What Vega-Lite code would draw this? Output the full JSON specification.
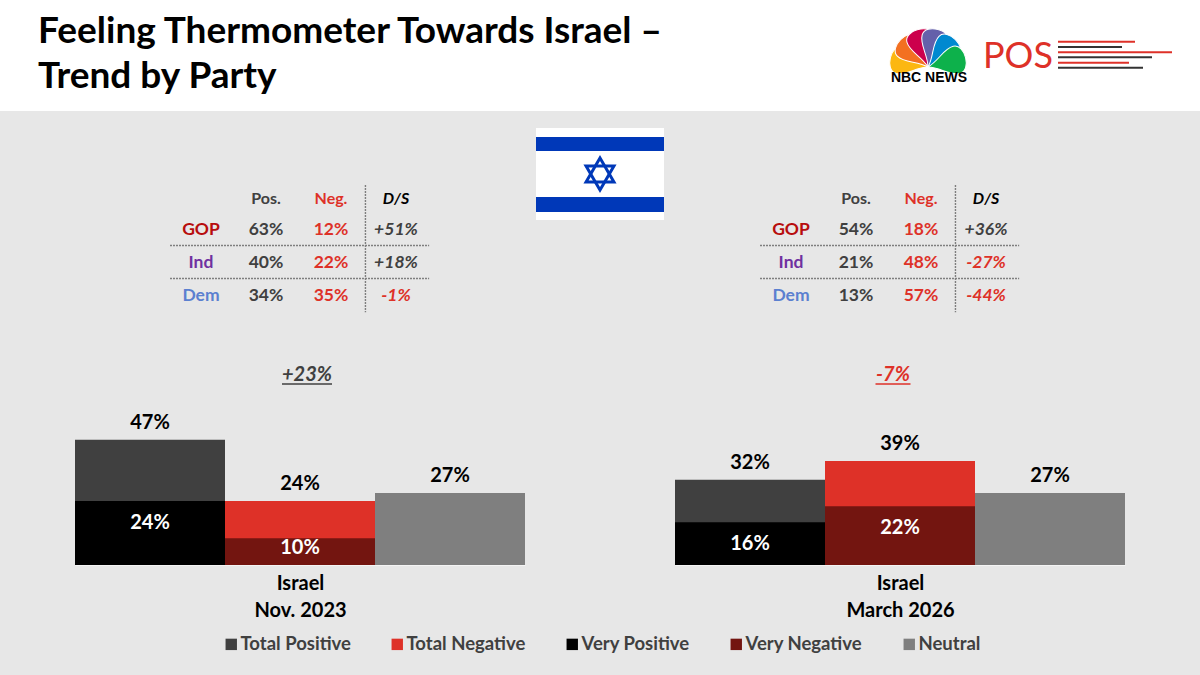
{
  "$schema": "https://vega.github.io/schema/vega-lite/v6.json",
  "background": "#E7E7E7",
  "padding": {"left": 0, "top": 0, "right": 0, "bottom": 22},
  "autosize": {"type": "pad"},
  "config": {"view": {"stroke": null}, "font": "Lato"},
  "datasets": {
    "bars": [
      {"poll": "Nov. 2023", "series": "Total Positive", "group": "Positive", "value": 47},
      {"poll": "Nov. 2023", "series": "Very Positive", "group": "Positive", "value": 24},
      {"poll": "Nov. 2023", "series": "Total Negative", "group": "Negative", "value": 24},
      {"poll": "Nov. 2023", "series": "Very Negative", "group": "Negative", "value": 10},
      {"poll": "Nov. 2023", "series": "Neutral", "group": "Neutral", "value": 27},
      {"poll": "March 2026", "series": "Total Positive", "group": "Positive", "value": 32},
      {"poll": "March 2026", "series": "Very Positive", "group": "Positive", "value": 16},
      {"poll": "March 2026", "series": "Total Negative", "group": "Negative", "value": 39},
      {"poll": "March 2026", "series": "Very Negative", "group": "Negative", "value": 22},
      {"poll": "March 2026", "series": "Neutral", "group": "Neutral", "value": 27}
    ],
    "table": [
      {"poll": "Nov. 2023", "row": 1, "col": 0, "text": "GOP", "tone": "GOP"},
      {"poll": "Nov. 2023", "row": 1, "col": 1, "text": "63%", "tone": "pos"},
      {"poll": "Nov. 2023", "row": 1, "col": 2, "text": "12%", "tone": "neg"},
      {"poll": "Nov. 2023", "row": 1, "col": 3, "text": "+51%", "tone": "pos"},
      {"poll": "Nov. 2023", "row": 2, "col": 0, "text": "Ind", "tone": "Ind"},
      {"poll": "Nov. 2023", "row": 2, "col": 1, "text": "40%", "tone": "pos"},
      {"poll": "Nov. 2023", "row": 2, "col": 2, "text": "22%", "tone": "neg"},
      {"poll": "Nov. 2023", "row": 2, "col": 3, "text": "+18%", "tone": "pos"},
      {"poll": "Nov. 2023", "row": 3, "col": 0, "text": "Dem", "tone": "Dem"},
      {"poll": "Nov. 2023", "row": 3, "col": 1, "text": "34%", "tone": "pos"},
      {"poll": "Nov. 2023", "row": 3, "col": 2, "text": "35%", "tone": "neg"},
      {"poll": "Nov. 2023", "row": 3, "col": 3, "text": "-1%", "tone": "neg"},
      {"poll": "March 2026", "row": 1, "col": 0, "text": "GOP", "tone": "GOP"},
      {"poll": "March 2026", "row": 1, "col": 1, "text": "54%", "tone": "pos"},
      {"poll": "March 2026", "row": 1, "col": 2, "text": "18%", "tone": "neg"},
      {"poll": "March 2026", "row": 1, "col": 3, "text": "+36%", "tone": "pos"},
      {"poll": "March 2026", "row": 2, "col": 0, "text": "Ind", "tone": "Ind"},
      {"poll": "March 2026", "row": 2, "col": 1, "text": "21%", "tone": "pos"},
      {"poll": "March 2026", "row": 2, "col": 2, "text": "48%", "tone": "neg"},
      {"poll": "March 2026", "row": 2, "col": 3, "text": "-27%", "tone": "neg"},
      {"poll": "March 2026", "row": 3, "col": 0, "text": "Dem", "tone": "Dem"},
      {"poll": "March 2026", "row": 3, "col": 1, "text": "13%", "tone": "pos"},
      {"poll": "March 2026", "row": 3, "col": 2, "text": "57%", "tone": "neg"},
      {"poll": "March 2026", "row": 3, "col": 3, "text": "-44%", "tone": "neg"}
    ],
    "heads": [
      {"col": 1, "text": "Pos.", "tone": "pos"},
      {"col": 2, "text": "Neg.", "tone": "neg"},
      {"col": 3, "text": "D/S", "tone": "black"}
    ],
    "hlines": [{"row": 1.5, "from": -0.477, "to": 3.51}, {"row": 2.5, "from": -0.477, "to": 3.51}]
  },
  "spacing": 0,
  "resolve": {"scale": {"color": "independent", "shape": "independent"}, "legend": {"color": "independent"}},
  "vconcat": [
    {
      "bounds": "flush",
      "spacing": 0,
      "resolve": {"scale": {"color": "independent", "shape": "independent"}, "legend": {"color": "independent"}},
      "hconcat": [
        {
          "width": 880,
          "height": 111,
          "view": {"fill": "#FFFFFF"},
          "data": {"values": [
            {"line": 1, "text": "Feeling Thermometer Towards Israel –"},
            {"line": 2, "text": "Trend by Party"}
          ]},
          "mark": {"type": "text", "align": "left", "baseline": "middle", "fontSize": 37, "fontWeight": "bold", "color": "#000000"},
          "encoding": {
            "x": {"value": 38},
            "y": {"field": "line", "type": "quantitative", "axis": null, "scale": {"domain": [0.289, 2.756], "reverse": true, "zero": false, "nice": false}},
            "text": {"field": "text"}
          }
        },
        {
          "width": 320,
          "height": 111,
          "view": {"fill": "#FFFFFF"},
          "layer": [
            {
              "data": {"values": [
                {"angle": -76, "tone": "#FCB711"},
                {"angle": -45, "tone": "#F37021"},
                {"angle": -15, "tone": "#CC004C"},
                {"angle": 15, "tone": "#6460AA"},
                {"angle": 45, "tone": "#0089D0"},
                {"angle": 76, "tone": "#0DB14B"}
              ]},
              "mark": {"type": "point", "filled": true, "opacity": 1, "stroke": "#FFFFFF", "strokeWidth": 1},
              "encoding": {
                "x": {"datum": 48, "type": "quantitative", "axis": null, "scale": {"domain": [0, 320], "nice": false}},
                "y": {"datum": 67, "type": "quantitative", "axis": null, "scale": {"domain": [0, 111], "reverse": true, "nice": false}},
                "angle": {"field": "angle", "type": "quantitative", "scale": null},
                "color": {"field": "tone", "type": "nominal", "scale": null},
                "shape": {"value": "M0,0 C-0.08,-0.3 -0.36,-0.5 -0.36,-0.76 C-0.36,-0.92 -0.18,-1 0,-1 C0.18,-1 0.36,-0.92 0.36,-0.76 C0.36,-0.5 0.08,-0.3 0,0 Z"},
                "size": {"value": 6000}
              }
            },
            {
              "data": {"values": [{"text": "NBC NEWS"}]},
              "mark": {"type": "text", "font": "Liberation Sans", "fontSize": 14, "fontWeight": "bold", "color": "#000000", "baseline": "middle"},
              "encoding": {
                "x": {"datum": 49, "type": "quantitative", "axis": null},
                "y": {"datum": 78, "type": "quantitative", "axis": null},
                "text": {"field": "text"}
              }
            },
            {
              "data": {"values": [{"text": "POS"}]},
              "mark": {"type": "text", "fontSize": 36, "color": "#DE3128", "align": "left", "baseline": "alphabetic"},
              "encoding": {
                "x": {"datum": 103, "type": "quantitative", "axis": null},
                "y": {"datum": 68, "type": "quantitative", "axis": null},
                "text": {"field": "text"}
              }
            },
            {
              "data": {"values": [
                {"y": 41.7, "start": 178, "end": 255, "tone": "#DE3128"},
                {"y": 47, "start": 178, "end": 242, "tone": "#333333"},
                {"y": 52.3, "start": 178, "end": 292, "tone": "#DE3128"},
                {"y": 57.3, "start": 178, "end": 272, "tone": "#333333"},
                {"y": 62.7, "start": 178, "end": 249, "tone": "#DE3128"},
                {"y": 67.7, "start": 178, "end": 263, "tone": "#333333"}
              ]},
              "mark": {"type": "rule", "strokeWidth": 2},
              "encoding": {
                "x": {"field": "start", "type": "quantitative", "axis": null},
                "x2": {"field": "end"},
                "y": {"field": "y", "type": "quantitative", "axis": null},
                "color": {"field": "tone", "type": "nominal", "scale": null}
              }
            }
          ]
        }
      ]
    },
    {
      "bounds": "flush",
      "spacing": 0,
      "resolve": {"scale": {"color": "independent", "shape": "independent"}, "legend": {"color": "independent"}},
      "hconcat": [
        {
          "width": 536,
          "height": 209,
          "layer": [
            {
              "data": {"name": "hlines"},
              "mark": {"type": "rule", "color": "#7F7F7F", "strokeWidth": 1.4, "strokeDash": [2, 1]},
              "encoding": {
                "x": {"field": "from", "type": "quantitative", "axis": null, "scale": {"domain": [-3.092, 5.154], "nice": false}},
                "x2": {"field": "to"},
                "y": {"field": "row", "type": "quantitative", "axis": null, "scale": {"domain": [-2.576, 3.758], "reverse": true, "zero": false, "nice": false}}
              }
            },
            {
              "data": {"values": [{"col": 2.53, "top": -0.33, "bottom": 3.52}]},
              "mark": {"type": "rule", "color": "#7F7F7F", "strokeWidth": 1.4, "strokeDash": [2, 1]},
              "encoding": {
                "x": {"field": "col", "type": "quantitative"},
                "y": {"field": "top", "type": "quantitative"},
                "y2": {"field": "bottom"}
              }
            },
            {
              "data": {"name": "heads"},
              "transform": [{"filter": "datum.col < 3"}],
              "mark": {"type": "text", "fontSize": 16, "fontWeight": "bold", "baseline": "middle"},
              "encoding": {
                "x": {"field": "col", "type": "quantitative"},
                "y": {"datum": 0.09, "type": "quantitative"},
                "text": {"field": "text"},
                "color": {"field": "tone", "type": "nominal", "legend": null, "scale": {"domain": ["pos", "neg", "black", "GOP", "Ind", "Dem"], "range": ["#404040", "#DE3128", "#000000", "#B70D0D", "#7030A0", "#5B80D0"]}}
              }
            },
            {
              "data": {"name": "heads"},
              "transform": [{"filter": "datum.col == 3"}],
              "mark": {"type": "text", "fontSize": 16, "fontWeight": "bold", "fontStyle": "italic", "baseline": "middle"},
              "encoding": {
                "x": {"field": "col", "type": "quantitative"},
                "y": {"datum": 0.09, "type": "quantitative"},
                "text": {"field": "text"},
                "color": {"field": "tone", "type": "nominal", "legend": null}
              }
            },
            {
              "data": {"name": "table"},
              "transform": [{"filter": "datum.poll == 'Nov. 2023' && datum.col < 3"}],
              "mark": {"type": "text", "fontSize": 17.5, "fontWeight": "bold", "baseline": "middle", "dy": 1},
              "encoding": {
                "x": {"field": "col", "type": "quantitative"},
                "y": {"field": "row", "type": "quantitative"},
                "text": {"field": "text"},
                "color": {"field": "tone", "type": "nominal", "legend": null}
              }
            },
            {
              "data": {"name": "table"},
              "transform": [{"filter": "datum.poll == 'Nov. 2023' && datum.col == 3"}],
              "mark": {"type": "text", "fontSize": 17.5, "fontWeight": "bold", "fontStyle": "italic", "baseline": "middle", "dy": 1},
              "encoding": {
                "x": {"field": "col", "type": "quantitative"},
                "y": {"field": "row", "type": "quantitative"},
                "text": {"field": "text"},
                "color": {"field": "tone", "type": "nominal", "legend": null}
              }
            }
          ]
        },
        {
          "width": 128,
          "height": 209,
          "layer": [
            {
              "data": {"values": [
                {"from": 0, "to": 92, "tone": "#FFFFFF"},
                {"from": 9, "to": 23, "tone": "#0038B8"},
                {"from": 69, "to": 84, "tone": "#0038B8"}
              ]},
              "mark": {"type": "rect"},
              "encoding": {
                "y": {"field": "from", "type": "quantitative", "axis": null, "scale": {"domain": [-17, 192], "reverse": true, "zero": false, "nice": false}},
                "y2": {"field": "to"},
                "color": {"field": "tone", "type": "nominal", "scale": null}
              }
            },
            {
              "data": {"values": [
                {"y": 42, "shape": "triangle-up"},
                {"y": 50, "shape": "triangle-down"}
              ]},
              "mark": {"type": "point", "filled": false, "opacity": 1, "color": "#0038B8", "strokeWidth": 3, "size": 780, "strokeJoin": "miter"},
              "encoding": {
                "y": {"field": "y", "type": "quantitative"},
                "shape": {"field": "shape", "type": "nominal", "legend": null, "scale": null}
              }
            }
          ]
        },
        {
          "width": 536,
          "height": 209,
          "layer": [
            {
              "data": {"name": "hlines"},
              "mark": {"type": "rule", "color": "#7F7F7F", "strokeWidth": 1.4, "strokeDash": [2, 1]},
              "encoding": {
                "x": {"field": "from", "type": "quantitative", "axis": null, "scale": {"domain": [-1.954, 6.292], "nice": false}},
                "x2": {"field": "to"},
                "y": {"field": "row", "type": "quantitative", "axis": null, "scale": {"domain": [-2.576, 3.758], "reverse": true, "zero": false, "nice": false}}
              }
            },
            {
              "data": {"values": [{"col": 2.53, "top": -0.33, "bottom": 3.52}]},
              "mark": {"type": "rule", "color": "#7F7F7F", "strokeWidth": 1.4, "strokeDash": [2, 1]},
              "encoding": {
                "x": {"field": "col", "type": "quantitative"},
                "y": {"field": "top", "type": "quantitative"},
                "y2": {"field": "bottom"}
              }
            },
            {
              "data": {"name": "heads"},
              "transform": [{"filter": "datum.col < 3"}],
              "mark": {"type": "text", "fontSize": 16, "fontWeight": "bold", "baseline": "middle"},
              "encoding": {
                "x": {"field": "col", "type": "quantitative"},
                "y": {"datum": 0.09, "type": "quantitative"},
                "text": {"field": "text"},
                "color": {"field": "tone", "type": "nominal", "legend": null, "scale": {"domain": ["pos", "neg", "black", "GOP", "Ind", "Dem"], "range": ["#404040", "#DE3128", "#000000", "#B70D0D", "#7030A0", "#5B80D0"]}}
              }
            },
            {
              "data": {"name": "heads"},
              "transform": [{"filter": "datum.col == 3"}],
              "mark": {"type": "text", "fontSize": 16, "fontWeight": "bold", "fontStyle": "italic", "baseline": "middle"},
              "encoding": {
                "x": {"field": "col", "type": "quantitative"},
                "y": {"datum": 0.09, "type": "quantitative"},
                "text": {"field": "text"},
                "color": {"field": "tone", "type": "nominal", "legend": null}
              }
            },
            {
              "data": {"name": "table"},
              "transform": [{"filter": "datum.poll == 'March 2026' && datum.col < 3"}],
              "mark": {"type": "text", "fontSize": 17.5, "fontWeight": "bold", "baseline": "middle", "dy": 1},
              "encoding": {
                "x": {"field": "col", "type": "quantitative"},
                "y": {"field": "row", "type": "quantitative"},
                "text": {"field": "text"},
                "color": {"field": "tone", "type": "nominal", "legend": null}
              }
            },
            {
              "data": {"name": "table"},
              "transform": [{"filter": "datum.poll == 'March 2026' && datum.col == 3"}],
              "mark": {"type": "text", "fontSize": 17.5, "fontWeight": "bold", "fontStyle": "italic", "baseline": "middle", "dy": 1},
              "encoding": {
                "x": {"field": "col", "type": "quantitative"},
                "y": {"field": "row", "type": "quantitative"},
                "text": {"field": "text"},
                "color": {"field": "tone", "type": "nominal", "legend": null}
              }
            }
          ]
        }
      ]
    },
    {
      "bounds": "flush",
      "spacing": 0,
      "resolve": {"scale": {"color": "independent", "shape": "independent"}, "legend": {"color": "independent"}},
      "hconcat": [
        {
          "width": 600,
          "height": 245,
          "data": {"name": "bars"},
          "transform": [
            {"filter": "datum.poll == 'Nov. 2023'"},
            {"calculate": "datum.value + '%'", "as": "label"}
          ],
          "layer": [
            {
              "mark": {"type": "bar"},
              "encoding": {
                "x": {
                  "field": "group", "type": "nominal",
                  "scale": {"domain": ["Positive", "Negative", "Neutral"], "range": [75, 525], "paddingInner": 0, "paddingOuter": 0},
                  "axis": {"labels": false, "ticks": false, "domainColor": "#F4F4F4", "domainWidth": 1, "title": ["Israel", "Nov. 2023"], "titleFont": "Lato", "titleFontSize": 20, "titleFontWeight": "bold", "titleColor": "#000000", "titleLineHeight": 27, "titlePadding": 8}
                },
                "y": {"field": "value", "type": "quantitative", "stack": null, "axis": null, "scale": {"domain": [0, 91.9], "nice": false}},
                "color": {
                  "field": "series", "type": "nominal",
                  "scale": {"domain": ["Total Positive", "Total Negative", "Very Positive", "Very Negative", "Neutral"], "range": ["#404040", "#DE3128", "#000000", "#731510", "#7F7F7F"]},
                  "legend": {"title": null, "orient": "none", "legendX": 222, "legendY": 315, "direction": "horizontal", "columns": 5, "symbolType": "square", "symbolSize": 130, "symbolStrokeWidth": 0, "labelFont": "Lato", "labelFontSize": 18.5, "labelFontWeight": "bold", "labelColor": "#404040", "labelLimit": 200, "columnPadding": 37, "labelOffset": 0}
                }
              }
            },
            {
              "transform": [{"filter": "datum.series == 'Total Positive' || datum.series == 'Total Negative' || datum.series == 'Neutral'"}],
              "mark": {"type": "text", "fontSize": 20, "fontWeight": "bold", "color": "#000000", "baseline": "middle", "dy": -17},
              "encoding": {
                "x": {"field": "group", "type": "nominal"},
                "y": {"field": "value", "type": "quantitative"},
                "text": {"field": "label"}
              }
            },
            {
              "transform": [{"filter": "(datum.series == 'Very Positive' || datum.series == 'Very Negative') && datum.value > 10"}],
              "mark": {"type": "text", "fontSize": 20, "fontWeight": "bold", "color": "#FFFFFF", "baseline": "middle", "dy": 22},
              "encoding": {
                "x": {"field": "group", "type": "nominal"},
                "y": {"field": "value", "type": "quantitative"},
                "text": {"field": "label"}
              }
            },
            {
              "transform": [{"filter": "(datum.series == 'Very Positive' || datum.series == 'Very Negative') && datum.value <= 10"}],
              "mark": {"type": "text", "fontSize": 20, "fontWeight": "bold", "color": "#FFFFFF", "baseline": "middle", "dy": 10},
              "encoding": {
                "x": {"field": "group", "type": "nominal"},
                "y": {"field": "value", "type": "quantitative"},
                "text": {"field": "label"}
              }
            },
            {
              "data": {"values": [{"text": "+23%"}]},
              "transform": [],
              "mark": {"type": "text", "fontSize": 20, "fontWeight": "bold", "fontStyle": "italic", "color": "#404040", "baseline": "middle", "xOffset": 7},
              "encoding": {
                "x": {"datum": "Negative", "type": "nominal"},
                "y": {"datum": 71.4, "type": "quantitative"},
                "text": {"field": "text"}
              }
            },
            {
              "data": {"values": [{"text": "+23%"}]},
              "transform": [],
              "mark": {"type": "tick", "orient": "horizontal", "size": 50, "thickness": 1.5, "color": "#404040", "opacity": 1, "xOffset": 7},
              "encoding": {
                "x": {"datum": "Negative", "type": "nominal"},
                "y": {"datum": 67.9, "type": "quantitative"}
              }
            }
          ]
        },
        {
          "width": 600,
          "height": 245,
          "data": {"name": "bars"},
          "transform": [
            {"filter": "datum.poll == 'March 2026'"},
            {"calculate": "datum.value + '%'", "as": "label"}
          ],
          "layer": [
            {
              "mark": {"type": "bar"},
              "encoding": {
                "x": {
                  "field": "group", "type": "nominal",
                  "scale": {"domain": ["Positive", "Negative", "Neutral"], "range": [75, 525], "paddingInner": 0, "paddingOuter": 0},
                  "axis": {"labels": false, "ticks": false, "domainColor": "#F4F4F4", "domainWidth": 1, "title": ["Israel", "March 2026"], "titleFont": "Lato", "titleFontSize": 20, "titleFontWeight": "bold", "titleColor": "#000000", "titleLineHeight": 27, "titlePadding": 8}
                },
                "y": {"field": "value", "type": "quantitative", "stack": null, "axis": null, "scale": {"domain": [0, 91.9], "nice": false}},
                "color": {
                  "field": "series", "type": "nominal",
                  "scale": {"domain": ["Total Positive", "Total Negative", "Very Positive", "Very Negative", "Neutral"], "range": ["#404040", "#DE3128", "#000000", "#731510", "#7F7F7F"]},
                  "legend": null
                }
              }
            },
            {
              "transform": [{"filter": "datum.series == 'Total Positive' || datum.series == 'Total Negative' || datum.series == 'Neutral'"}],
              "mark": {"type": "text", "fontSize": 20, "fontWeight": "bold", "color": "#000000", "baseline": "middle", "dy": -17},
              "encoding": {
                "x": {"field": "group", "type": "nominal"},
                "y": {"field": "value", "type": "quantitative"},
                "text": {"field": "label"}
              }
            },
            {
              "transform": [{"filter": "datum.series == 'Very Positive' || datum.series == 'Very Negative'"}],
              "mark": {"type": "text", "fontSize": 20, "fontWeight": "bold", "color": "#FFFFFF", "baseline": "middle", "dy": 22},
              "encoding": {
                "x": {"field": "group", "type": "nominal"},
                "y": {"field": "value", "type": "quantitative"},
                "text": {"field": "label"}
              }
            },
            {
              "data": {"values": [{"text": "-7%"}]},
              "transform": [],
              "mark": {"type": "text", "fontSize": 20, "fontWeight": "bold", "fontStyle": "italic", "color": "#DE3128", "baseline": "middle", "xOffset": -7},
              "encoding": {
                "x": {"datum": "Negative", "type": "nominal"},
                "y": {"datum": 71.4, "type": "quantitative"},
                "text": {"field": "text"}
              }
            },
            {
              "data": {"values": [{"text": "-7%"}]},
              "transform": [],
              "mark": {"type": "tick", "orient": "horizontal", "size": 35, "thickness": 1.5, "color": "#DE3128", "opacity": 1, "xOffset": -7},
              "encoding": {
                "x": {"datum": "Negative", "type": "nominal"},
                "y": {"datum": 67.9, "type": "quantitative"}
              }
            }
          ]
        }
      ]
    }
  ]
}
